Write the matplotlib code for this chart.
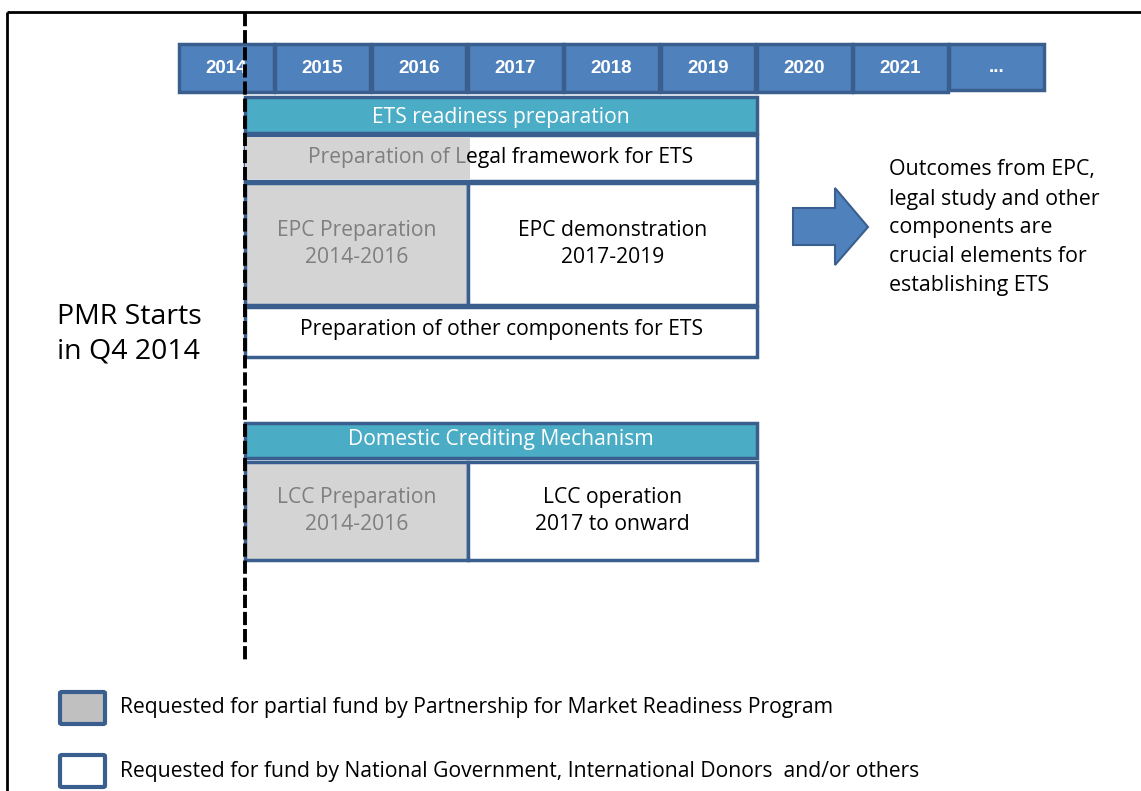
"""Timeline of ETS readiness and crediting mechanism activities."""

import matplotlib
matplotlib.use("Agg")
import matplotlib.pyplot as plt
from matplotlib.patches import Rectangle, FancyBboxPatch, Polygon

# ---------------------------------------------------------------------------
# data
# ---------------------------------------------------------------------------
years = [2014, 2015, 2016, 2017, 2018, 2019, 2020, 2021]
year_labels = ["2014", "2015", "2016", "2017", "2018", "2019", "2020", "2021", "..."]
pmr_start = 2014.69  # Q4 2014
split_year = 2017.0
end_year = 2020.0

header_labels = ["ETS readiness preparation", "Domestic Crediting Mechanism"]
legal_label = ("Preparation of L", "egal framework for ETS")  # grey / black part
epc_labels = ["EPC Preparation\n2014-2016", "EPC demonstration\n2017-2019"]
other_label = "Preparation of other components for ETS"
lcc_labels = ["LCC Preparation\n2014-2016", "LCC operation\n2017 to onward"]
outcome_text = ("Outcomes from EPC,\nlegal study and other\ncomponents are\n"
                "crucial elements for\nestablishing ETS")
pmr_text = "PMR Starts\nin Q4 2014"
legend_labels = [
    "Requested for partial fund by Partnership for Market Readiness Program",
    "Requested for fund by National Government, International Donors  and/or others",
]

# ---------------------------------------------------------------------------
# style
# ---------------------------------------------------------------------------
YEAR_FILL = "#4f81bd"
BORDER = "#3a5f8e"
TEAL = "#4bacc6"
GRAY = "#d4d4d4"
GRAY_TXT = "#7f7f7f"
FONT = "Open Sans"
FS = 15.2

W, H = 1141, 791
YR_PX = 96.3          # pixels per year
X0_PX = 179           # pixel of 1 Jan 2014


def px(x):
    """pixel column -> year units"""
    return 2014 + (x - X0_PX) / YR_PX


fig = plt.figure(figsize=(W / 100, H / 100), dpi=100)
ax = fig.add_axes([0, 0, 1, 1])
ax.set_xlim(px(0), px(W))
ax.set_ylim(H, 0)
ax.axis("off")

# frame
ax.plot([px(7), px(W)], [12, 12], color="black", lw=2, solid_capstyle="butt")
ax.plot([px(7), px(7)], [12, H], color="black", lw=2, solid_capstyle="butt")

# year strip
for i, lab in enumerate(year_labels):
    y0 = years[0] + i
    top, h = (44, 48) if lab != "..." else (44, 46)
    ax.add_patch(Rectangle((y0, top), 0.985, h, facecolor=YEAR_FILL,
                           edgecolor=BORDER, lw=2.5, zorder=2))
    ax.text(y0 + 0.49, top + h / 2 + 0.5, lab, color="white", fontsize=13.5,
            fontweight="bold", family="Liberation Sans",
            ha="center", va="center", zorder=3)


def box(x0, x1, top, bottom, fill="white", edge=BORDER, lw=2.5, z=2):
    ax.add_patch(Rectangle((x0, top), x1 - x0, bottom - top, facecolor=fill,
                           edgecolor=edge, lw=lw, zorder=z))


def label(x, y, s, color="black", size=FS, ha="center"):
    ax.text(x, y, s, color=color, fontsize=size, family=FONT, ha=ha,
            va="center", linespacing=1.32, zorder=5)


mid_all = (pmr_start + end_year) / 2
mid_left = (pmr_start + split_year) / 2
mid_right = (split_year + end_year) / 2

# ETS readiness block
box(pmr_start, end_year, 97, 133, fill=TEAL)
label(mid_all, 118, header_labels[0], color="white")

box(pmr_start, end_year, 135, 181)
ax.add_patch(Rectangle((pmr_start, 137), split_year + 0.02 - pmr_start, 42,
                       facecolor=GRAY, edgecolor="none", zorder=3))
label(split_year - 0.015, 157, legal_label[0], color=GRAY_TXT, ha="right")
label(split_year - 0.015, 157, legal_label[1], ha="left")

box(pmr_start, split_year, 183, 305, fill=GRAY)
box(split_year, end_year, 183, 305)
label(mid_left, 244, epc_labels[0], color=GRAY_TXT)
label(mid_right, 244, epc_labels[1])

box(pmr_start, end_year, 307, 357)
label(mid_all, 330, other_label)

# crediting block
box(pmr_start, end_year, 423, 458, fill=TEAL)
label(mid_all, 440, header_labels[1], color="white")
box(pmr_start, split_year, 462, 560, fill=GRAY)
box(split_year, end_year, 462, 560)
label(mid_left, 511, lcc_labels[0], color=GRAY_TXT)
label(mid_right, 511, lcc_labels[1])

# PMR start marker
ax.plot([pmr_start, pmr_start], [13, 662], color="black", lw=2.8,
        dashes=(3.4, 1.0), zorder=6)
ax.text(px(57), 334, pmr_text, fontsize=20.5, family=FONT, ha="left",
        va="center", linespacing=1.3)

# outcome arrow + note
arrow = [(793, 208), (835, 208), (835, 188), (868, 227), (835, 265),
         (835, 245), (793, 245)]
ax.add_patch(Polygon([(px(x), y) for x, y in arrow], closed=True,
                     facecolor=YEAR_FILL, edgecolor=BORDER, lw=1.5, zorder=3))
ax.text(px(889), 228, outcome_text, fontsize=15.4, family=FONT, ha="left",
        va="center", linespacing=1.5)

# legend
for i, (lab, fill) in enumerate(zip(legend_labels, ["#c0c0c0", "white"])):
    top = 692 + i * 63
    ax.add_patch(FancyBboxPatch((px(60), top), px(105) - px(60), 32,
                                boxstyle="round,pad=0,rounding_size=0.02",
                                mutation_aspect=60,
                                facecolor=fill, edgecolor=BORDER, lw=3))
    ax.text(px(120), top + 16, lab, fontsize=FS, family=FONT, ha="left",
            va="center")

fig.savefig("out.png", dpi=100)
